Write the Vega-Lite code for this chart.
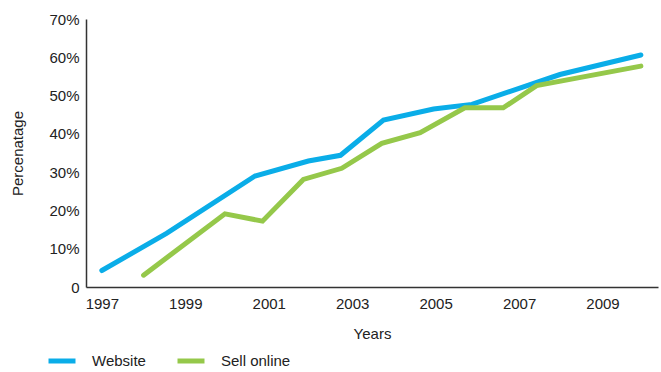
{
  "$schema": "https://vega.github.io/schema/vega-lite/v6.json",
  "autosize": {"type": "none"},
  "padding": {"left": 86, "top": 19, "right": 3, "bottom": 85},
  "width": 572,
  "height": 268,
  "background": "white",
  "config": {
    "view": {"stroke": null},
    "font": "Liberation Sans",
    "axis": {"labelFont": "Liberation Sans", "titleFont": "Liberation Sans", "labelColor": "#222", "titleColor": "#222", "titleFontWeight": "normal", "labelFontSize": 15, "titleFontSize": 15, "domainColor": "#333", "domainWidth": 1.5, "ticks": false, "grid": false},
    "legend": {"labelFont": "Liberation Sans", "labelFontSize": 15, "labelColor": "#222"}
  },
  "data": {
    "values": [
      {"year": 1997.0, "value": 4.3, "series": "Website"},
      {"year": 1998.55, "value": 14.0, "series": "Website"},
      {"year": 2000.67, "value": 29.0, "series": "Website"},
      {"year": 2001.95, "value": 32.9, "series": "Website"},
      {"year": 2002.72, "value": 34.4, "series": "Website"},
      {"year": 2003.75, "value": 43.6, "series": "Website"},
      {"year": 2004.95, "value": 46.5, "series": "Website"},
      {"year": 2005.87, "value": 47.7, "series": "Website"},
      {"year": 2007.98, "value": 55.5, "series": "Website"},
      {"year": 2009.92, "value": 60.6, "series": "Website"},
      {"year": 1998.0, "value": 3.1, "series": "Sell online"},
      {"year": 1999.95, "value": 19.1, "series": "Sell online"},
      {"year": 2000.85, "value": 17.2, "series": "Sell online"},
      {"year": 2001.83, "value": 28.1, "series": "Sell online"},
      {"year": 2002.75, "value": 31.0, "series": "Sell online"},
      {"year": 2003.71, "value": 37.5, "series": "Sell online"},
      {"year": 2004.63, "value": 40.3, "series": "Sell online"},
      {"year": 2005.7, "value": 46.8, "series": "Sell online"},
      {"year": 2006.62, "value": 46.8, "series": "Sell online"},
      {"year": 2007.42, "value": 52.6, "series": "Sell online"},
      {"year": 2009.92, "value": 57.7, "series": "Sell online"}
    ]
  },
  "mark": {"type": "line", "strokeWidth": 5, "strokeCap": "round"},
  "encoding": {
    "x": {
      "field": "year", "type": "quantitative",
      "scale": {"domain": [1996.62, 2010.33], "nice": false, "zero": false},
      "axis": {"values": [1997, 1999, 2001, 2003, 2005, 2007, 2009], "format": "d", "title": "Years", "labelPadding": 9, "titlePadding": 15, "labelFlush": false}
    },
    "y": {
      "field": "value", "type": "quantitative",
      "scale": {"domain": [0, 70], "nice": false},
      "axis": {"values": [0, 10, 20, 30, 40, 50, 60, 70], "labelExpr": "datum.value == 0 ? '0' : datum.value + '%'", "title": "Percenatage", "labelPadding": 7, "titlePadding": 23}
    },
    "color": {
      "field": "series", "type": "nominal",
      "scale": {"domain": ["Website", "Sell online"], "range": ["#0aade8", "#95c84a"]},
      "legend": {"title": null, "orient": "none", "direction": "horizontal", "legendX": -40, "legendY": 326, "symbolType": "stroke", "symbolStrokeWidth": 5, "symbolSize": 729, "labelOffset": 14, "columnPadding": 21, "padding": 0}
    },
    "sort": null
  }
}
